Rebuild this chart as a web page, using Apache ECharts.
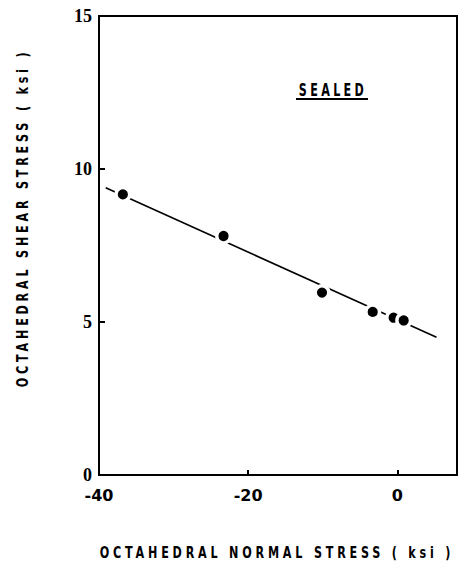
<!DOCTYPE html>
<html>
<head>
<meta charset="utf-8">
<script src="https://cdn.jsdelivr.net/npm/echarts@6/dist/echarts.min.js"></script>
<style>
html,body{margin:0;padding:0;background:#fff;}
#chart{width:463px;height:563px;}
#chart text[style*="Verdana"]{letter-spacing:5.4px;}
</style>
</head>
<body>
<div id="chart"></div>
<script>
// Data
var normalStress = [-36.8, -23.3, -10.1, -3.3, -0.5, 0.85];
var shearStress  = [9.17, 7.81, 5.96, 5.33, 5.14, 5.05];
var fitLineX = [-39.1, 5.25];
var fitLineY = [9.39, 4.5];
var xTicks = [-40, -20, 0];
var yTicks = [0, 5, 10, 15];
var xTitle = 'OCTAHEDRAL NORMAL STRESS ( ksi )';
var yTitle = 'OCTAHEDRAL SHEAR STRESS ( ksi )';
var caseLabel = 'SEALED';

var titleFont = '"DejaVu Sans", Verdana, sans-serif';

var chart = echarts.init(document.getElementById('chart'), null, {renderer: 'svg'});
var points = normalStress.map(function (x, i) { return [x, shearStress[i]]; });
var fit = fitLineX.map(function (x, i) { return [x, fitLineY[i]]; });

chart.setOption({
  animation: false,
  backgroundColor: '#fff',
  grid: {left: 99, right: 6, top: 16, bottom: 88, show: true, borderColor: '#000', borderWidth: 2, backgroundColor: 'transparent'},
  xAxis: {
    type: 'value', min: -40, max: 8, interval: 20,
    axisLine: {show: true, onZero: false, lineStyle: {color: '#000', width: 2}},
    axisTick: {show: true, inside: true, length: 5, lineStyle: {color: '#000', width: 2}, customValues: xTicks},
    axisLabel: {color: '#000', fontFamily: '"DejaVu Sans", sans-serif', fontWeight: 'bold', fontSize: 16, margin: 12, customValues: xTicks},
    splitLine: {show: false}
  },
  yAxis: {
    type: 'value', min: 0, max: 15, interval: 5,
    axisLine: {show: true, onZero: false, lineStyle: {color: '#000', width: 2}},
    axisTick: {show: true, inside: true, length: 6, lineStyle: {color: '#000', width: 2}, customValues: yTicks},
    axisLabel: {color: '#000', fontFamily: '"Liberation Serif", serif', fontWeight: 'bold', fontSize: 18, margin: 7, customValues: yTicks},
    splitLine: {show: false}
  },
  graphic: [
    {type: 'text', x: 277, y: 552, scaleX: 0.7, z: 10,
     style: {text: xTitle, align: 'center', verticalAlign: 'middle', fontFamily: titleFont, fontWeight: 'bold', fontSize: 16, fill: '#000'}},
    {type: 'text', x: 22, y: 218, rotation: Math.PI / 2, scaleX: 0.7, z: 10,
     style: {text: yTitle, align: 'center', verticalAlign: 'middle', fontFamily: titleFont, fontWeight: 'bold', fontSize: 16, fill: '#000'}},
    {type: 'text', x: 333, y: 90, scaleX: 0.62, z: 10,
     style: {text: caseLabel, align: 'center', verticalAlign: 'middle', fontFamily: titleFont, fontWeight: 'bold', fontSize: 18, fill: '#000'}},
    {type: 'line', z: 10, shape: {x1: 296, y1: 99, x2: 368, y2: 99}, style: {stroke: '#000', lineWidth: 2}}
  ],
  series: [
    {type: 'line', data: fit, symbol: 'none', z: 2,
     lineStyle: {color: '#000', width: 1.6}},
    {type: 'scatter', data: points, symbol: 'circle', symbolSize: 13.6, z: 3,
     itemStyle: {color: '#000', opacity: 1, borderColor: '#fff', borderWidth: 3.4}}
  ]
});
</script>
</body>
</html>
